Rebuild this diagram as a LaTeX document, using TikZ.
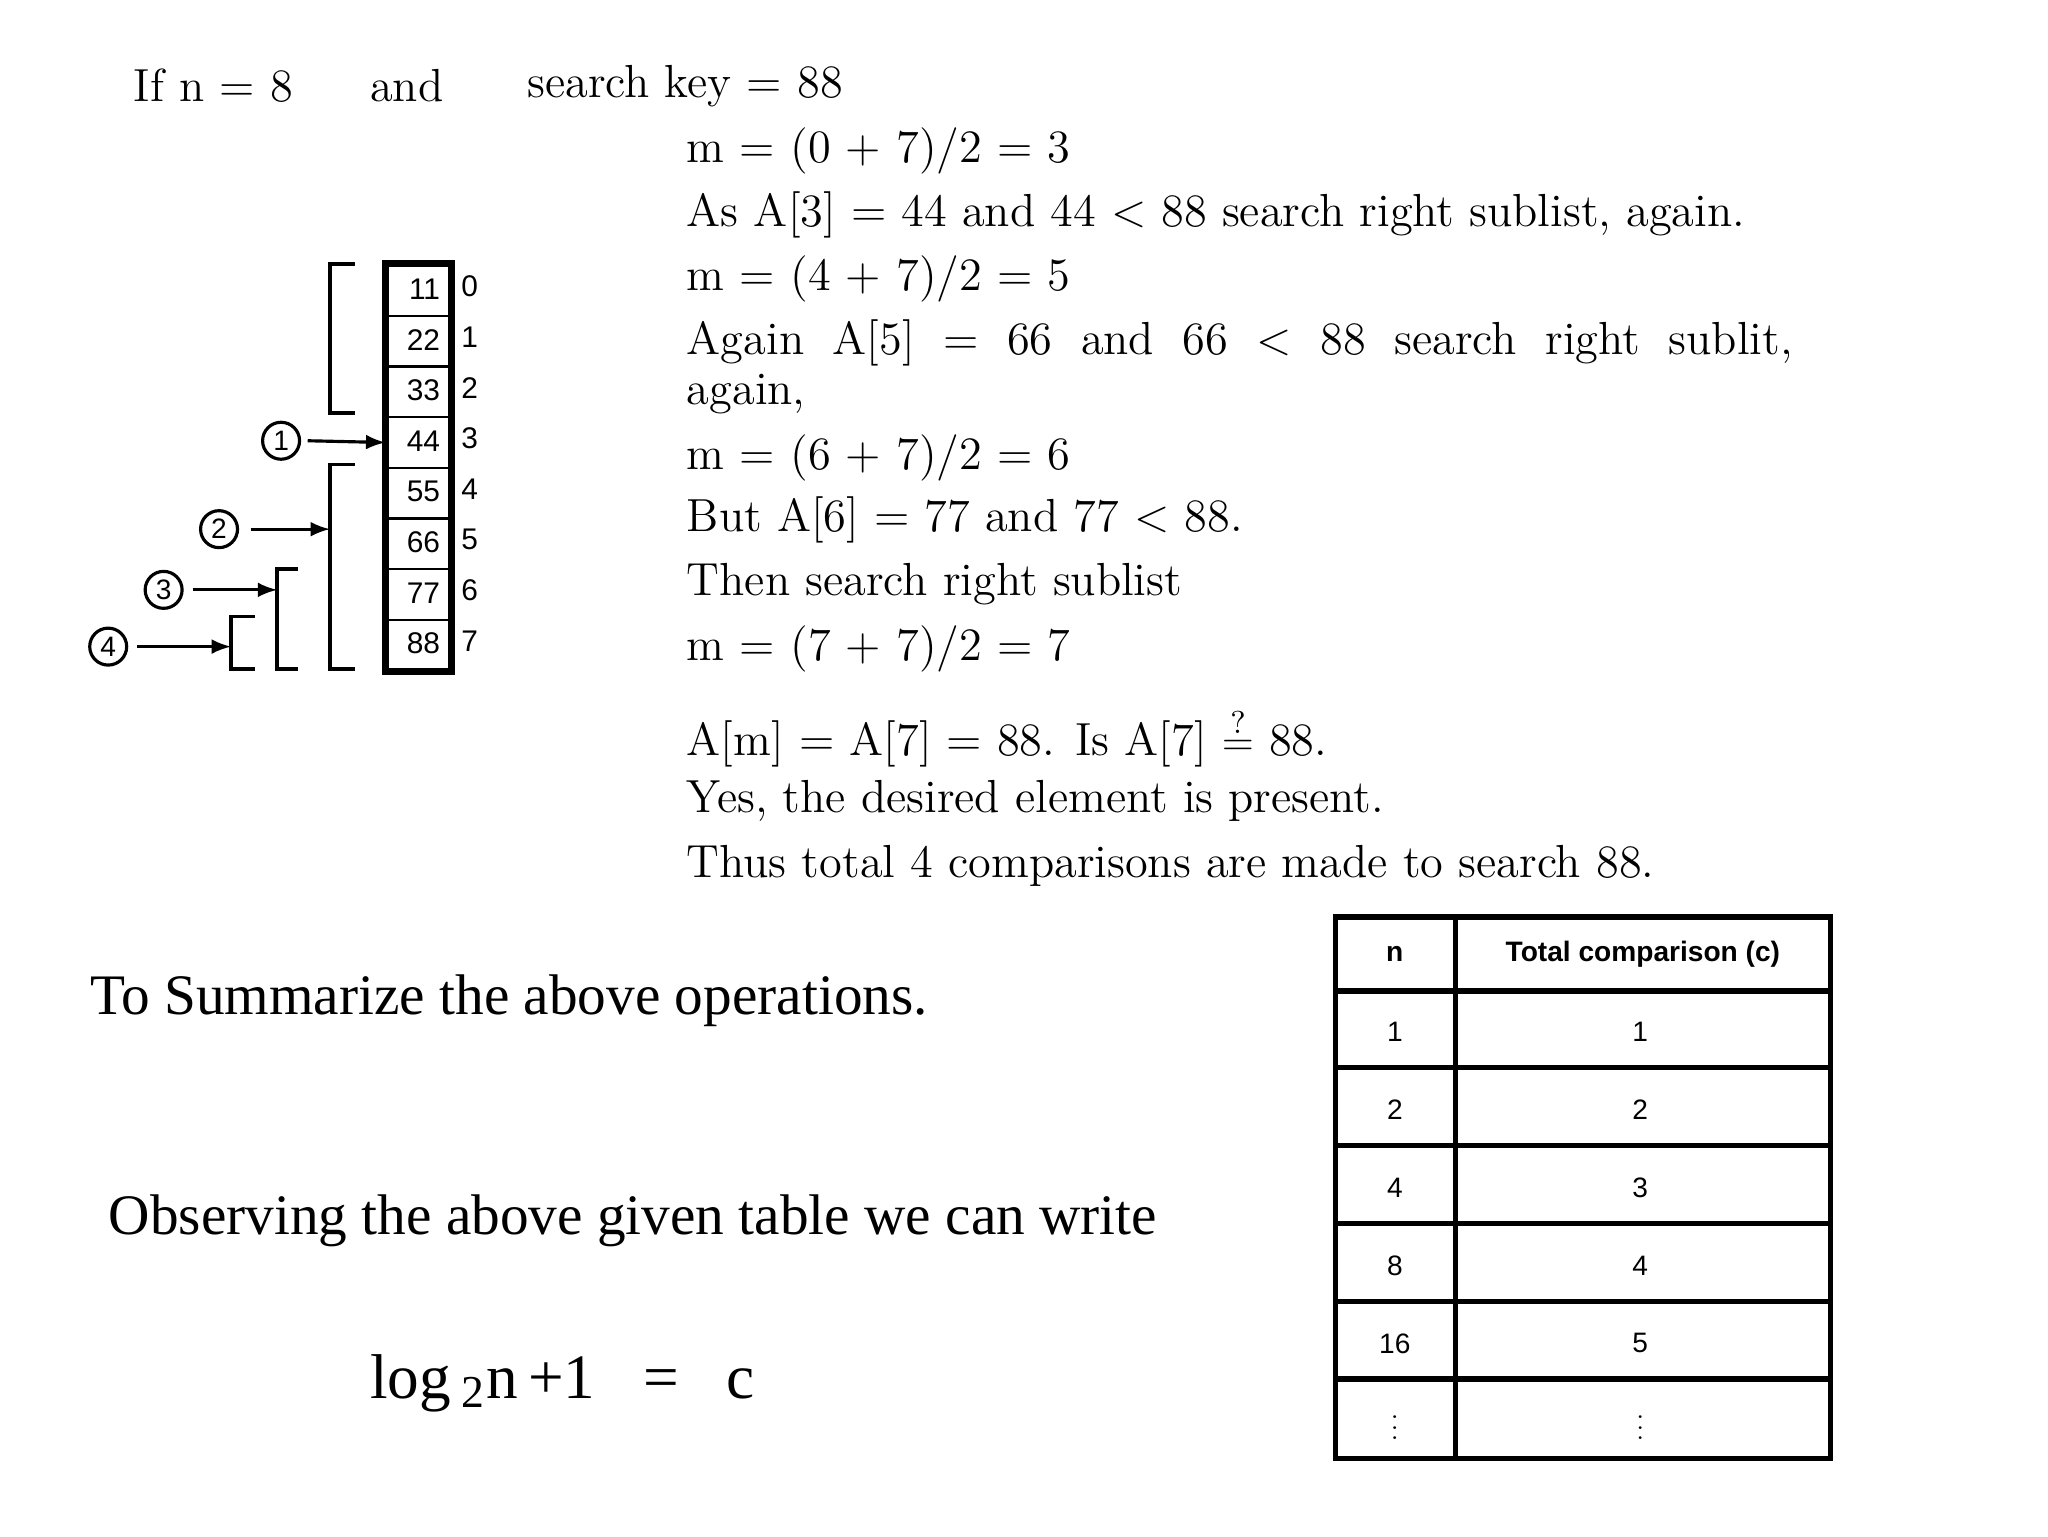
\documentclass[tikz,border=0pt]{standalone}
\usepackage{fontspec}
\setmainfont{Latin Modern Roman}
\newfontfamily\tms{Liberation Serif}
\newfontfamily\hel{Liberation Sans}
\begin{document}
\begin{tikzpicture}[x=0.013196cm,y=-0.013196cm,
  txt/.style={anchor=west,inner sep=0,font=\fontsize{13.2}{15}\selectfont},
  cell/.style={draw,line width=0.7pt,minimum width=48*0.013196cm,minimum height=38.4*0.013196cm,inner sep=0,anchor=north west},
  ctext/.style={anchor=east,inner sep=0,font=\hel\fontsize{8.5}{10}\selectfont},
  idx/.style={font=\hel\fontsize{8.5}{10}\selectfont,inner sep=0},
  circ/.style={draw,circle,line width=0.9pt,minimum size=28*0.013196cm,inner sep=0,font=\hel\fontsize{8}{9}\selectfont},
  brk/.style={line width=1pt},
  arr/.style={line width=0.9pt,-latex},
  big/.style={anchor=west,inner sep=0,font=\tms\fontsize{16.3}{19}\selectfont},
  tb/.style={font=\hel\fontsize{8}{10}\selectfont}]
\useasboundingbox (0,0) rectangle (1552,1164);
% top text
\node[txt] (t0) at (101,65) {If n = 8};
\node[txt] (t1) at (280,65) {and};
\node[txt] (t2) at (399,65) {search key = 88};
\node[txt] (l1) at (520,114) {m = (0 + 7)/2 = 3};
\node[txt] (l2) at (520,163) {As A[3] = 44 and 44 < 88 search right sublist, again.};
\node[txt] (l3) at (520,211) {m = (4 + 7)/2 = 5};
\node[txt,text width=838*0.013196cm,align=justify] (l4) at (520,260) {Again\ \ A[5]\ \ =\ \ 66\ \ and\ \ 66\ \ <\ \ 88\ \ search\ \ right\ \ sublit,\hfill\null};
\node[txt] (l4b) at (520,299) {again,};
\node[txt] (l5) at (520,347) {m = (6 + 7)/2 = 6};
\node[txt] (l6) at (520,394) {But A[6] = 77 and 77 < 88.};
\node[txt] (l7) at (520,443) {Then search right sublist};
\node[txt] (l8) at (520,492) {m = (7 + 7)/2 = 7};
\node[txt] (l9) at (520,559) {A[m] = A[7] = 88. Is A[7] $\stackrel{?}{=}$ 88.};
\node[txt] (l10) at (520,607) {Yes, the desired element is present.};
\node[txt] (l11) at (520,656) {Thus total 4 comparisons are made to search 88.};
% array
\foreach \v [count=\i from 0] in {11,22,33,44,55,66,77,88}{
  \node[cell] (c\i) at (292,200+38.4*\i) {};
  \node[ctext] (v\i) at (334,219+38.4*\i) {\v};
  \node[idx] (n\i) at (356,217+38.4*\i) {\i};
}
\draw[line width=2pt] (c0.north west) rectangle (c7.south east);
% brackets
\draw[brk] (269,200) -- (250,200) -- (250,313) -- (269,313);
\draw[brk] (269,352) -- (250,352) -- (250,507) -- (269,507);
\draw[brk] (226,431) -- (210,431) -- (210,507) -- (226,507);
\draw[brk] (193,467) -- (175,467) -- (175,507) -- (193,507);
\node[circ] (k1) at (213,334) {1};
\node[circ] (k2) at (166,401) {2};
\node[circ] (k3) at (124,447) {3};
\node[circ] (k4) at (82,490) {4};
\draw[arr] (k1.east) ++(5,0) -- (c3.west);
\draw[arr] (190,401) -- (250,401);
\draw[arr] (146,447) -- (210,447);
\draw[arr] (104,490) -- (175,490);
% bottom text
\node[big] (s1) at (68,758) {To Summarize the above operations.};
\node[big] (s2) at (82,925) {Observing the above given table we can write};
\node[anchor=west,inner sep=0,font=\tms\fontsize{18}{20}\selectfont] (f) at (280,1048) {log\,$_{\mbox{\tms\fontsize{13}{14}\selectfont 2}}$n\,+1\ \ \ =\ \ \ c};
% table
\draw[line width=1.5pt] (1012,695) rectangle (1387,1105);
\draw[line width=1.5pt] (1103,695) -- (1103,1105);
\foreach \y in {751,809,868,927,986,1045}{\draw[line width=1.5pt] (1012,\y) -- (1387,\y);}
\node[tb,font=\hel\bfseries\fontsize{8}{10}\selectfont] (h1) at (1057,723) {n};
\node[tb,font=\hel\bfseries\fontsize{8}{10}\selectfont] (h2) at (1245,723) {Total comparison (c)};
\foreach \a/\b/\y [count=\i] in {1/1/782,2/2/841,4/3/900,8/4/959,16/5/1018}{
  \node[tb] (ra\i) at (1057,\y) {\a};
  \node[tb] (rb\i) at (1243,\y) {\b};
}
\node[inner sep=0] (ra6) at (1057,1076) {\scalebox{0.8}[0.75]{$\vdots$}};
\node[inner sep=0] (rb6) at (1243,1076) {\scalebox{0.8}[0.75]{$\vdots$}};
\end{tikzpicture}
\end{document}
